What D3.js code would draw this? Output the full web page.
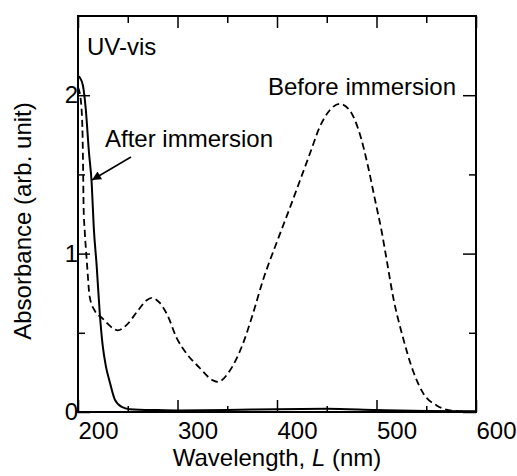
<!DOCTYPE html>
<html>
<head>
<meta charset="utf-8">
<script src="https://cdn.jsdelivr.net/npm/d3@7"></script>
<style>
  body { margin: 0; background: #fff; }
  svg text { font-family: "Liberation Sans", Arial, sans-serif; fill: #000; }
</style>
</head>
<body>
<svg id="chart" width="517" height="476"></svg>
<script>
// solid line, after immersion
const afterNm  = [200, 202, 205, 207.7, 211, 213.8, 215.8, 218.8, 221.8, 224.8, 228, 231.9, 236.9, 244, 252, 280, 300, 350, 400, 450, 500, 550, 600];
const afterAbs = [2.12, 2.11, 2.06, 1.92, 1.64, 1.44, 1.17, 0.92, 0.63, 0.42, 0.29, 0.19, 0.08, 0.032, 0.018, 0.012, 0.01, 0.012, 0.018, 0.02, 0.012, 0.006, 0.004];

// dashed line, before immersion
const beforeNm  = [200, 202.4, 204.4, 205, 205.7, 206.7, 209, 211.8, 216.8, 224.8, 234.9, 239.9, 249, 259, 269, 274, 282, 290, 299, 309, 322, 335.5, 340.5, 352.5, 365.7, 375.8, 385.8, 400.9, 413, 423, 433, 443, 453, 463, 473, 483, 491.5, 498.5, 505.5, 510.5, 516.6, 526.6, 536.7, 546.8, 560.8, 573.9, 587, 600];
const beforeAbs = [2.05, 1.99, 1.80, 1.59, 1.275, 1.15, 0.94, 0.725, 0.64, 0.59, 0.53, 0.515, 0.55, 0.63, 0.705, 0.72, 0.69, 0.61, 0.47, 0.37, 0.28, 0.20, 0.19, 0.26, 0.43, 0.62, 0.83, 1.09, 1.29, 1.46, 1.63, 1.80, 1.905, 1.945, 1.905, 1.76, 1.55, 1.34, 1.13, 0.95, 0.73, 0.47, 0.26, 0.12, 0.04, 0.01, 0.002, 0];

const xMajor = [200, 300, 400, 500, 600];
const xMinor = [250, 350, 450, 550];
const yMajor = [0, 1, 2];
const yMinor = [0.5, 1.5];

const svg = d3.select("#chart");
const mLeft = 78, mTop = 16, mRight = 476, mBottom = 412;

const x = d3.scaleLinear().domain([200, 600]).range([mLeft, mRight]);
const y = d3.scaleLinear().domain([0, 2.5]).range([mBottom, mTop]);

svg.append("clipPath").attr("id", "clip")
  .append("rect")
  .attr("x", mLeft).attr("y", mTop)
  .attr("width", mRight - mLeft).attr("height", mBottom - mTop);

// axes, ticks pointing inward
function styleAxis(g) {
  g.select(".domain").remove();
  g.selectAll(".tick line").attr("stroke", "#000").attr("stroke-width", 1.5);
}

svg.append("g")
  .attr("transform", `translate(0,${mBottom})`)
  .call(d3.axisBottom(x).tickValues(xMajor).tickSize(-12).tickPadding(10))
  .call(styleAxis)
  .call(g => g.selectAll("text").attr("text-anchor", "start").style("font-size", "24px"));
svg.append("g")
  .attr("transform", `translate(0,${mBottom})`)
  .call(d3.axisBottom(x).tickValues(xMinor).tickSize(-6).tickFormat(""))
  .call(styleAxis);
svg.append("g")
  .attr("transform", `translate(0,${mTop})`)
  .call(d3.axisTop(x).tickValues(xMajor).tickSize(-12).tickFormat(""))
  .call(styleAxis);
svg.append("g")
  .attr("transform", `translate(0,${mTop})`)
  .call(d3.axisTop(x).tickValues(xMinor).tickSize(-7).tickFormat(""))
  .call(styleAxis);

svg.append("g")
  .attr("transform", `translate(${mLeft},0)`)
  .call(d3.axisLeft(y).tickValues(yMajor).tickSize(-12).tickPadding(0).tickFormat(d3.format("d")))
  .call(styleAxis)
  .call(g => g.selectAll("text").style("font-size", "24px"));
svg.append("g")
  .attr("transform", `translate(${mLeft},0)`)
  .call(d3.axisLeft(y).tickValues(yMinor).tickSize(-7).tickFormat(""))
  .call(styleAxis);
svg.append("g")
  .attr("transform", `translate(${mRight},0)`)
  .call(d3.axisRight(y).tickValues(yMajor).tickSize(-13).tickFormat(""))
  .call(styleAxis);
svg.append("g")
  .attr("transform", `translate(${mRight},0)`)
  .call(d3.axisRight(y).tickValues(yMinor).tickSize(-7).tickFormat(""))
  .call(styleAxis);

// frame
svg.append("rect")
  .attr("x", mLeft).attr("y", mTop)
  .attr("width", mRight - mLeft).attr("height", mBottom - mTop)
  .attr("fill", "none").attr("stroke", "#000").attr("stroke-width", 2);

const line = d3.line()
  .x(d => x(d[0]))
  .y(d => y(d[1]))
  .curve(d3.curveMonotoneX);

const plot = svg.append("g").attr("clip-path", "url(#clip)");

plot.append("path")
  .datum(d3.zip(beforeNm, beforeAbs))
  .attr("d", line)
  .attr("fill", "none").attr("stroke", "#000")
  .attr("stroke-width", 1.8).attr("stroke-dasharray", "7,4");

plot.append("path")
  .datum(d3.zip(afterNm, afterAbs))
  .attr("d", line)
  .attr("fill", "none").attr("stroke", "#000")
  .attr("stroke-width", 2);

// annotations
svg.append("text").attr("x", 87).attr("y", 55).style("font-size", "24px").text("UV-vis");
svg.append("text").attr("x", 105).attr("y", 147).style("font-size", "24px").text("After immersion");
svg.append("text").attr("x", 268).attr("y", 95).style("font-size", "24px").text("Before immersion");

svg.append("defs").append("marker")
  .attr("id", "arrow")
  .attr("viewBox", "0 0 10 10")
  .attr("refX", 10).attr("refY", 5)
  .attr("markerWidth", 11).attr("markerHeight", 9)
  .attr("markerUnits", "userSpaceOnUse")
  .attr("orient", "auto")
  .append("path").attr("d", "M0,0 L10,5 L0,10 z").attr("fill", "#000");

svg.append("line")
  .attr("x1", 131).attr("y1", 157)
  .attr("x2", 92).attr("y2", 180)
  .attr("stroke", "#000").attr("stroke-width", 1.5)
  .attr("marker-end", "url(#arrow)");

// axis titles
const xt = svg.append("text")
  .attr("x", (mLeft + mRight) / 2).attr("y", 466)
  .attr("text-anchor", "middle").style("font-size", "24px");
xt.append("tspan").text("Wavelength, ");
xt.append("tspan").style("font-style", "italic").text("L");
xt.append("tspan").text(" (nm)");

svg.append("text")
  .attr("transform", "rotate(-90)")
  .attr("x", -221).attr("y", 31)
  .attr("text-anchor", "middle").style("font-size", "24px")
  .text("Absorbance (arb. unit)");
</script>
</body>
</html>
